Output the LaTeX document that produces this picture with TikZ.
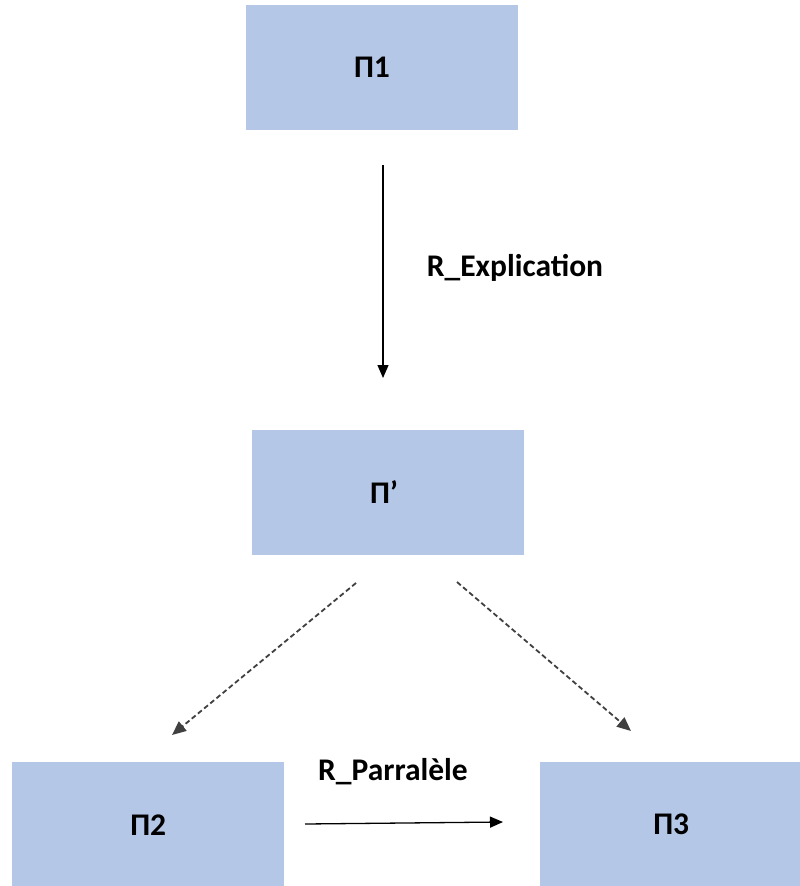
\documentclass[tikz,border=0pt]{standalone}
\usepackage{fontspec}
\setmainfont{Carlito}
\usetikzlibrary{arrows.meta}
\definecolor{boxblue}{RGB}{180,199,231}
\tikzset{
  procbox/.style={fill=boxblue, draw=none, minimum width=272pt, minimum height=125pt, inner sep=0pt,
                  font=\fontsize{31.5}{36}\selectfont\bfseries},
  lbl/.style={font=\fontsize{31.5}{36}\selectfont\bfseries, inner sep=0pt},
  solidarrow/.style={line width=1.3pt, -{Triangle[length=13pt,width=11pt]}},
  dasharrow/.style={line width=1.8pt, draw=black!75, dash pattern=on 5pt off 3pt,
                    -{Triangle[length=14pt,width=12pt]}}
}
\begin{document}
\begin{tikzpicture}[x=1pt,y=-1pt]
  \useasboundingbox (0,0) rectangle (800,886);

  % boxes
  \node[procbox] (p1) at (382,67.5) {\raisebox{-5pt}{\hspace*{-20pt}Π1}};
  \node[procbox] (pp) at (388,492) {\raisebox{-5pt}{\hspace*{-8pt}Π’}};
  \node[procbox, anchor=north west] (p2) at (12,762) {\raisebox{-3pt}{Π2}};
  \node[procbox, anchor=north west, minimum width=262pt] (p3) at (540,762) {\raisebox{-3pt}{Π3}};

  % free ends of the connectors
  \coordinate (e1a) at (383,165);
  \coordinate (e1b) at (383,378);
  \coordinate (d1a) at (356,583);
  \coordinate (d1b) at (172,735);
  \coordinate (d2a) at (457,582);
  \coordinate (d2b) at (631,731);
  \coordinate (h1a) at (305,824);
  \coordinate (h1b) at (503,822);

  % connectors
  \draw[solidarrow] (e1a) -- (e1b);
  \draw[dasharrow] (d1a) -- (d1b);
  \draw[dasharrow] (d2a) -- (d2b);
  \draw[solidarrow] (h1a) -- (h1b);

  % labels
  \node[lbl] (lexp) at (515,268) {R\_Explication};
  \node[lbl] (lpar) at (393,772) {R\_Parralèle};
\end{tikzpicture}
\end{document}
